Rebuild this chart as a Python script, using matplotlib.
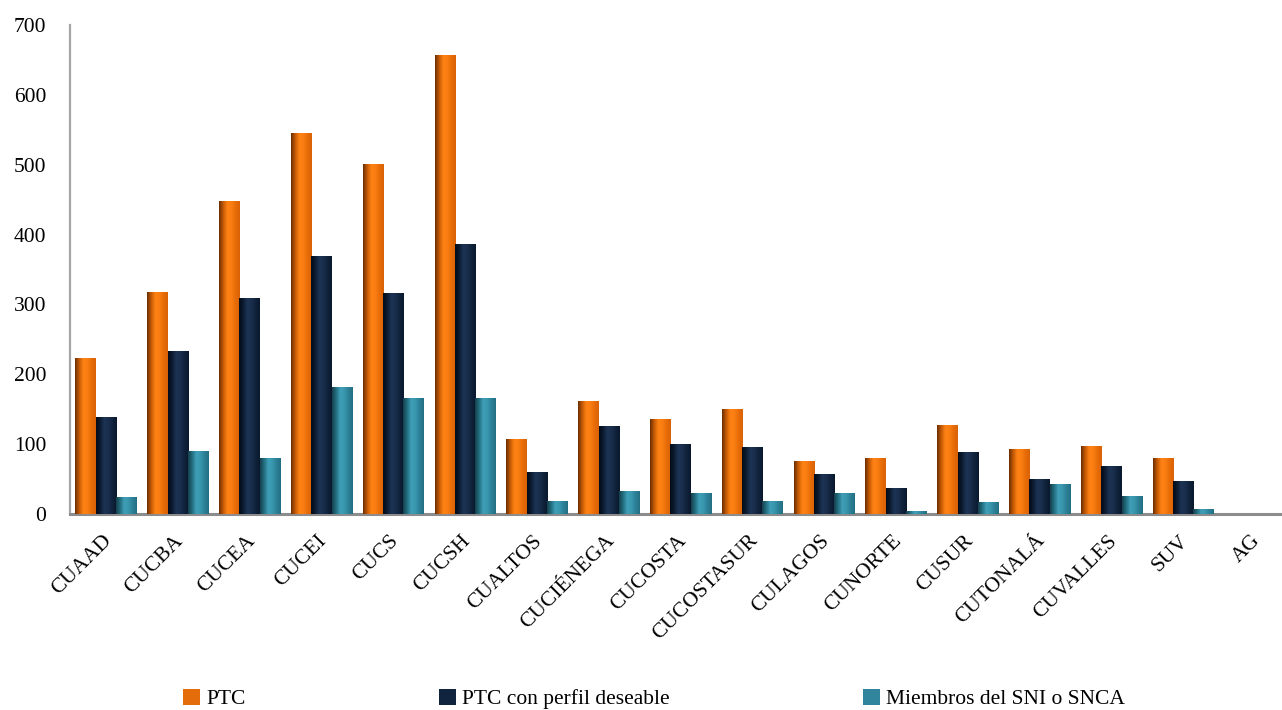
import numpy as np
import matplotlib
matplotlib.use('Agg')
import matplotlib.pyplot as plt
import matplotlib.colors as mcolors
import matplotlib.transforms as mtransforms

plt.rcParams['font.family'] = ['Liberation Serif', 'DejaVu Serif']

# data
centros = ['CUAAD', 'CUCBA', 'CUCEA', 'CUCEI', 'CUCS', 'CUCSH', 'CUALTOS',
           'CUCIÉNEGA', 'CUCOSTA', 'CUCOSTASUR', 'CULAGOS', 'CUNORTE',
           'CUSUR', 'CUTONALÁ', 'CUVALLES', 'SUV', 'AG']
ptc = [222, 317, 448, 545, 501, 657, 106, 161, 135, 150, 75, 80, 126, 92, 97, 79, 0]
ptc_perfil = [138, 233, 308, 368, 315, 386, 60, 125, 100, 95, 57, 37, 88, 50, 68, 47, 0]
miembros_sni = [23, 90, 80, 181, 166, 165, 18, 32, 30, 18, 29, 4, 17, 42, 25, 7, 0]

series_names = ['PTC', 'PTC con perfil deseable', 'Miembros del SNI o SNCA']
base_colors = ['#E46C0A', '#10243F', '#31859C']

# cylinder-like shading for each series (left -> right across one bar)
shades = [
    ['#6a2e00', '#c65a05', '#ff8314', '#f97d12', '#e86c08', '#d86206'],
    ['#050c18', '#0c1b30', '#1e3456', '#1a2e4c', '#10223c', '#0a182c'],
    ['#163f4c', '#247082', '#40a0b8', '#3896ad', '#2c8096', '#236f84'],
]
cmaps = [mcolors.LinearSegmentedColormap.from_list(f'shade{i}', s) for i, s in enumerate(shades)]

W, H = 1282, 710
fig = plt.figure(figsize=(W / 100, H / 100), dpi=100)
ax = fig.add_axes([70 / W, (H - 514) / H, 1221 / W, 489 / H])

x = np.arange(len(centros))
bar_w = 0.283
offsets = [-bar_w, 0, bar_w]
grad = np.linspace(0, 1, 64).reshape(1, -1)

containers = []
for vals, off, col, cm in zip([ptc, ptc_perfil, miembros_sni], offsets, base_colors, cmaps):
    bars = ax.bar(x + off, vals, width=bar_w, color=col, linewidth=0, zorder=2)
    containers.append(bars)
    for b in bars:
        h = b.get_height()
        if h <= 0:
            continue
        x0 = b.get_x()
        ax.imshow(grad, extent=[x0, x0 + b.get_width(), 0, h], aspect='auto',
                  cmap=cm, interpolation='bicubic', zorder=3)

ax.set_xlim(-0.5, len(centros) - 0.5)
ax.set_ylim(0, 700)

ax.set_yticks(np.arange(0, 701, 100))
ax.tick_params(axis='y', length=0, pad=17, labelsize=15.5)
ax.set_xticks(x)
ax.set_xticklabels(centros, rotation=45, ha='right', va='top',
                   rotation_mode='anchor', fontsize=15.5)
ax.tick_params(axis='x', length=0, pad=12.5)
shift = mtransforms.ScaledTranslation(-4 / 100, 0, fig.dpi_scale_trans)
for lbl in ax.get_xticklabels():
    lbl.set_transform(lbl.get_transform() + shift)

for side in ['top', 'right']:
    ax.spines[side].set_visible(False)
ax.spines['left'].set_color('#a6a6a6')
ax.spines['left'].set_linewidth(1.6)
ax.spines['bottom'].set_color('#8c8c8c')
ax.spines['bottom'].set_linewidth(2.2)

fig.legend(handles=containers, labels=series_names, loc='center left',
           bbox_to_anchor=(183 / W, 1 - 699 / H), ncol=3, frameon=False,
           fontsize=15.5, handlelength=0.8, handleheight=0.8,
           handletextpad=0.3, columnspacing=8.95, borderpad=0, borderaxespad=0)

fig.savefig('out.png', dpi=100)
